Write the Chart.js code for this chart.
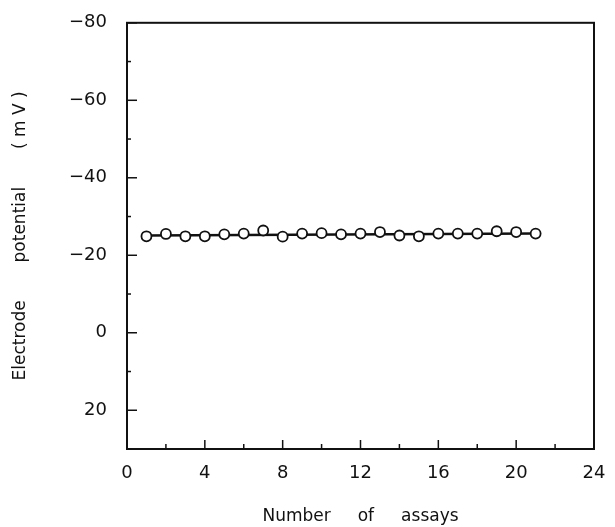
<!DOCTYPE html>
<html>
<head>
<meta charset="utf-8">
<script src="https://cdn.jsdelivr.net/npm/chart.js@4/dist/chart.umd.min.js"></script>
<style>
html, body { margin: 0; padding: 0; background: #fff; }
#wrap { width: 615px; height: 527px; }
</style>
</head>
<body>
<div id="wrap"><canvas id="chart"></canvas></div>
<script>
const Assays = [1, 2, 3, 4, 5, 6, 7, 8, 9, 10, 11, 12, 13, 14, 15, 16, 17, 18, 19, 20, 21];
const Potential = [-24.9, -25.5, -24.9, -24.9, -25.4, -25.6, -26.4, -24.8, -25.6, -25.7, -25.4, -25.6, -26.0, -25.1, -24.9, -25.6, -25.6, -25.6, -26.2, -26.0, -25.6];
const FitX = [1, 21];
const FitY = [-25.1, -25.6];

const FontName = "'DejaVu Sans', sans-serif";
const Ink = "#111";

// box round the plot area and ticks pointing inwards
const frameTicks = {
    id: 'frameTicks',
    afterDraw(chart) {
        const ctx = chart.ctx;
        const a = chart.chartArea;
        const xs = chart.scales.x;
        const ys = chart.scales.y;
        ctx.save();
        ctx.strokeStyle = Ink;
        ctx.lineWidth = 2;
        ctx.strokeRect(a.left, a.top, a.right - a.left, a.bottom - a.top);
        ctx.lineWidth = 1.5;
        xs.ticks.forEach(function (t) {
            const px = xs.getPixelForValue(t.value);
            const len = t.value % 4 === 0 ? 9 : 5;
            ctx.beginPath();
            ctx.moveTo(px, a.bottom);
            ctx.lineTo(px, a.bottom - len);
            ctx.stroke();
        });
        ys.ticks.forEach(function (t) {
            const py = ys.getPixelForValue(t.value);
            const len = t.value % 20 === 0 ? 10 : 4;
            ctx.beginPath();
            ctx.moveTo(a.left, py);
            ctx.lineTo(a.left + len, py);
            ctx.stroke();
        });
        ctx.restore();
    }
};

new Chart(document.getElementById("chart"), {
    type: 'scatter',
    data: {
        datasets: [{
            data: FitX.map(function (x, i) { return { x: x, y: FitY[i] }; }),
            showLine: true,
            borderColor: Ink,
            borderWidth: 2.5,
            pointRadius: 0,
            order: 2
        }, {
            data: Assays.map(function (x, i) { return { x: x, y: Potential[i] }; }),
            showLine: false,
            pointRadius: 5,
            pointBorderWidth: 1.8,
            pointBackgroundColor: "#fff",
            pointBorderColor: Ink,
            order: 1
        }]
    },
    options: {
        responsive: true,
        maintainAspectRatio: false,
        animation: false,
        layout: { padding: { top: 16, right: 21, left: 10, bottom: 0 } },
        plugins: {
            legend: { display: false },
            tooltip: { enabled: false }
        },
        scales: {
            x: {
                type: 'linear',
                min: 0,
                max: 24,
                grid: { display: false },
                border: { display: false },
                ticks: {
                    stepSize: 2,
                    padding: 6,
                    color: Ink,
                    font: { family: FontName, size: 18 },
                    maxRotation: 0,
                    autoSkip: false,
                    callback: function (v) { return v % 4 === 0 ? String(v) : ''; }
                },
                title: {
                    display: true,
                    text: "Number     of     assays",
                    color: Ink,
                    font: { family: FontName, size: 17 },
                    padding: { top: 2, bottom: 0 }
                },
                afterFit: function (s) { s.height = 78; }
            },
            y: {
                type: 'linear',
                reverse: true,
                min: -80,
                max: 30,
                grid: { display: false },
                border: { display: false },
                ticks: {
                    stepSize: 10,
                    padding: 12,
                    color: Ink,
                    font: { family: FontName, size: 18 },
                    autoSkip: false,
                    callback: function (v) {
                        if (v % 20 !== 0) return '';
                        return v < 0 ? '\u2212' + Math.abs(v) : String(v);
                    }
                },
                title: {
                    display: true,
                    text: "Electrode       potential       ( m V )",
                    color: Ink,
                    font: { family: FontName, size: 17 },
                    padding: { top: 0, bottom: 4 }
                },
                afterFit: function (s) { s.width = 117; }
            }
        }
    },
    plugins: [frameTicks]
});
</script>
</body>
</html>
